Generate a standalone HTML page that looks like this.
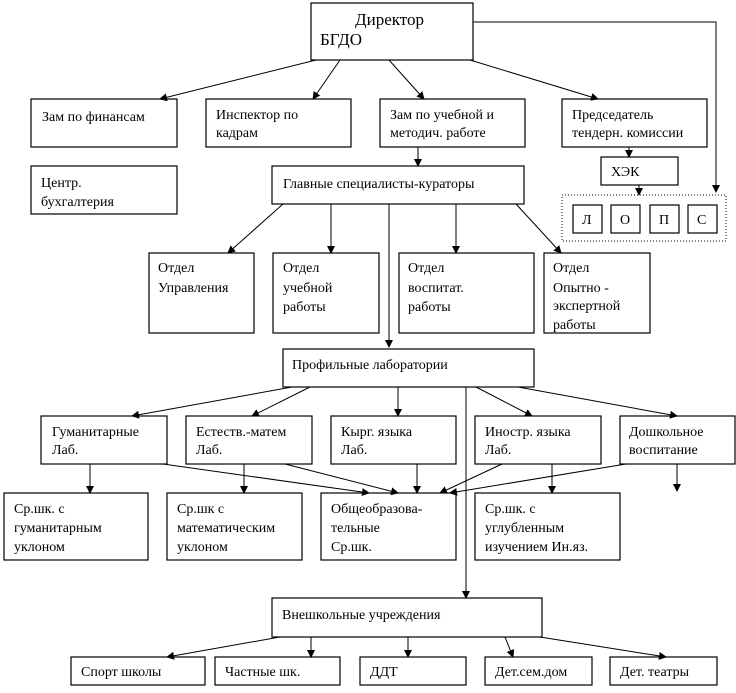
<!DOCTYPE html><html><head><meta charset="utf-8"><style>
body{margin:0;background:#fff;width:736px;height:688px;overflow:hidden}
svg{font-family:"Liberation Serif",serif;font-size:14px}
</style></head><body>
<svg width="736" height="688" viewBox="0 0 736 688" xmlns="http://www.w3.org/2000/svg">
<defs><marker id="a" markerWidth="8" markerHeight="8" refX="7" refY="4" orient="auto" markerUnits="userSpaceOnUse"><path d="M0,0 L8,4 L0,8z" fill="#000"/></marker></defs>
<g fill="#fff" stroke="#000" stroke-width="1.2">
<rect x="311" y="3" width="162" height="57"/>
<rect x="31" y="99" width="146" height="48"/>
<rect x="206" y="99" width="145" height="48"/>
<rect x="380" y="99" width="145" height="48"/>
<rect x="562" y="99" width="145" height="48"/>
<rect x="601" y="157" width="77" height="28"/>
<rect x="31" y="166" width="146" height="48"/>
<rect x="272" y="166" width="252" height="38"/>
<rect x="573" y="205" width="29" height="28"/>
<rect x="611" y="205" width="29" height="28"/>
<rect x="650" y="205" width="29" height="28"/>
<rect x="688" y="205" width="29" height="28"/>
<rect x="149" y="253" width="105" height="80"/>
<rect x="273" y="253" width="106" height="80"/>
<rect x="399" y="253" width="135" height="80"/>
<rect x="544" y="253" width="106" height="80"/>
<rect x="283" y="349" width="251" height="38"/>
<rect x="41" y="416" width="126" height="48"/>
<rect x="186" y="416" width="126" height="48"/>
<rect x="331" y="416" width="125" height="48"/>
<rect x="475" y="416" width="126" height="48"/>
<rect x="620" y="416" width="115" height="48"/>
<rect x="4" y="493" width="144" height="67"/>
<rect x="167" y="493" width="135" height="67"/>
<rect x="321" y="493" width="135" height="67"/>
<rect x="475" y="493" width="145" height="67"/>
<rect x="272" y="598" width="270" height="39"/>
<rect x="71" y="657" width="134" height="28"/>
<rect x="215" y="657" width="125" height="28"/>
<rect x="360" y="657" width="106" height="28"/>
<rect x="485" y="657" width="107" height="28"/>
<rect x="610" y="657" width="107" height="28"/>
</g>
<rect x="562" y="195" width="164" height="46" fill="none" stroke="#000" stroke-dasharray="1,2"/>
<g stroke="#000" stroke-width="1" fill="none" marker-end="url(#a)">
<line x1="316" y1="60" x2="160" y2="99"/>
<line x1="340" y1="60" x2="313" y2="99"/>
<line x1="389" y1="60" x2="424" y2="99"/>
<line x1="470" y1="60" x2="598" y2="99"/>
<polyline points="473,22 716,22 716,192"/>
<line x1="629" y1="147" x2="629" y2="157"/>
<line x1="639" y1="185" x2="639" y2="195"/>
<line x1="418" y1="147" x2="418" y2="166"/>
<line x1="283" y1="204" x2="228" y2="253"/>
<line x1="331" y1="204" x2="331" y2="253"/>
<line x1="456" y1="204" x2="456" y2="253"/>
<line x1="516" y1="204" x2="561" y2="253"/>
<line x1="389" y1="204" x2="389" y2="347"/>
<line x1="292" y1="387" x2="132" y2="416"/>
<line x1="310" y1="387" x2="252" y2="416"/>
<line x1="398" y1="387" x2="398" y2="416"/>
<line x1="476" y1="387" x2="532" y2="416"/>
<line x1="518" y1="387" x2="677" y2="416"/>
<line x1="466" y1="387" x2="466" y2="598"/>
<line x1="90" y1="464" x2="90" y2="493"/>
<line x1="244" y1="464" x2="244" y2="493"/>
<line x1="417" y1="464" x2="417" y2="493"/>
<line x1="552" y1="464" x2="552" y2="493"/>
<line x1="677" y1="464" x2="677" y2="491"/>
<line x1="163" y1="464" x2="369" y2="493"/>
<line x1="285" y1="464" x2="398" y2="493"/>
<line x1="502" y1="464" x2="440" y2="493"/>
<line x1="626" y1="464" x2="450" y2="493"/>
<line x1="280" y1="637" x2="167" y2="657"/>
<line x1="311" y1="637" x2="311" y2="657"/>
<line x1="408" y1="637" x2="408" y2="657"/>
<line x1="505" y1="637" x2="513" y2="657"/>
<line x1="540" y1="637" x2="666" y2="657"/>
</g>
<g fill="#000">
<text x="355" y="25" font-size="17">Директор</text>
<text x="320" y="45" font-size="17">БГДО</text>
<text x="42" y="121">Зам по финансам</text>
<text x="216" y="119">Инспектор по</text><text x="216" y="137">кадрам</text>
<text x="390" y="119">Зам по учебной и</text><text x="390" y="137">методич. работе</text>
<text x="572" y="119">Председатель</text><text x="572" y="137">тендерн. комиссии</text>
<text x="611" y="176">ХЭК</text>
<text x="41" y="187">Центр.</text><text x="41" y="206">бухгалтерия</text>
<text x="283" y="188">Главные специалисты-кураторы</text>
<text x="582" y="224">Л</text><text x="620" y="224">О</text><text x="659" y="224">П</text><text x="697" y="224">С</text>
<text x="158" y="272">Отдел</text><text x="158" y="292">Управления</text>
<text x="283" y="272">Отдел</text><text x="283" y="292">учебной</text><text x="283" y="311">работы</text>
<text x="408" y="272">Отдел</text><text x="408" y="292">воспитат.</text><text x="408" y="311">работы</text>
<text x="553" y="272">Отдел</text><text x="553" y="292">Опытно -</text><text x="553" y="310">экспертной</text><text x="553" y="329">работы</text>
<text x="292" y="369">Профильные лаборатории</text>
<text x="52" y="436">Гуманитарные</text><text x="52" y="454">Лаб.</text>
<text x="196" y="436">Естеств.-матем</text><text x="196" y="454">Лаб.</text>
<text x="341" y="436">Кырг. языка</text><text x="341" y="454">Лаб.</text>
<text x="485" y="436">Иностр. языка</text><text x="485" y="454">Лаб.</text>
<text x="629" y="436">Дошкольное</text><text x="629" y="454">воспитание</text>
<text x="14" y="513">Ср.шк. с</text><text x="14" y="532">гуманитарным</text><text x="14" y="551">уклоном</text>
<text x="177" y="513">Ср.шк с</text><text x="177" y="532">математическим</text><text x="177" y="551">уклоном</text>
<text x="331" y="513">Общеобразова-</text><text x="331" y="532">тельные</text><text x="331" y="551">Ср.шк.</text>
<text x="485" y="513">Ср.шк. с</text><text x="485" y="532">углубленным</text><text x="485" y="551">изучением Ин.яз.</text>
<text x="282" y="619">Внешкольные учреждения</text>
<text x="81" y="676">Спорт школы</text>
<text x="225" y="676">Частные шк.</text>
<text x="370" y="676">ДДТ</text>
<text x="495" y="676">Дет.сем.дом</text>
<text x="620" y="676">Дет. театры</text>
</g>
</svg>
</body></html>
